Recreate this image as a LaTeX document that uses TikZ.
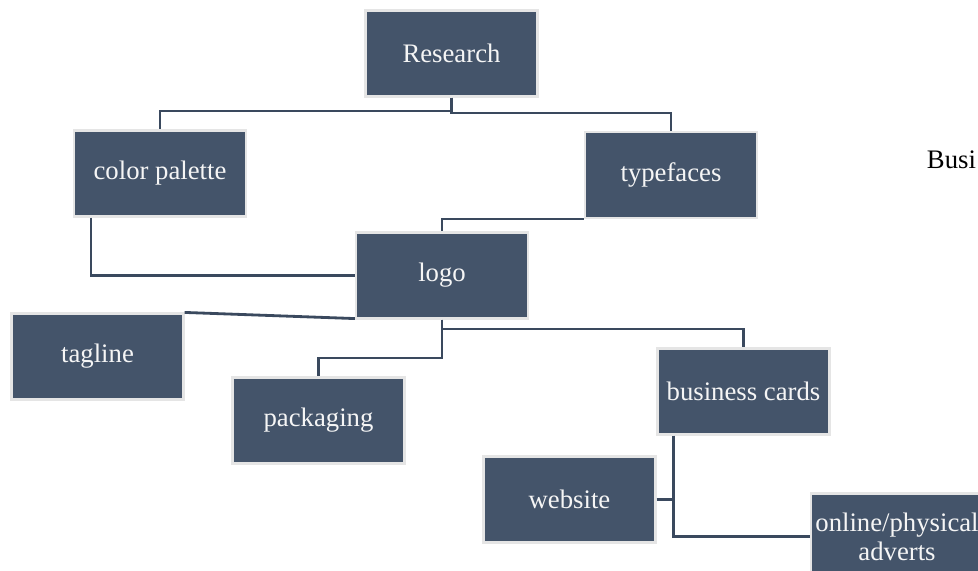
\documentclass[tikz,border=0pt]{standalone}
\usepackage{fontspec}
\setmainfont{Liberation Serif}
\usetikzlibrary{calc}
\definecolor{boxfill}{RGB}{68,84,106}
\definecolor{boxedge}{RGB}{229,229,229}
\definecolor{linkcol}{RGB}{58,73,94}
\newcommand{\boxfont}{\fontsize{19}{20.5}\selectfont}
\tikzset{
  tbox/.style={draw=boxedge, fill=boxfill, line width=1.5pt, text=white!96!black,
               minimum width=4.3cm, minimum height=2.15cm, inner sep=1pt,
               align=center, font=\boxfont},
  link/.style={linkcol, line width=2pt},
}

\begin{document}
\begin{tikzpicture}[x=0.025cm, y=-0.025cm]
  \clip (0,0) rectangle (978,571);
  % boxes
  \node[tbox] (research) at (451.5,53.5) {Research};
  \node[tbox] (cpal)     at (160,173.5)  {color palette};
  \node[tbox] (tface)    at (671,175)    {typefaces};
  \node[tbox] (logo)     at (442,275.5)  {logo};
  \node[tbox] (tagline)  at (97.5,356.5) {tagline};
  \node[tbox] (packg)    at (318.5,420.5) {packaging};
  \node[tbox] (bcards)   at (743.5,391.5) {business cards};
  \node[tbox] (website)  at (569.5,499.5) {website};
  \node[tbox] (adverts)  at (897,536.5)  {online/physical\\adverts};
  \node[anchor=base west, font=\boxfont] (busi) at (922,169) {Busi};

  % connectors
  \draw[link] (research.south) -- (451.5,111) -| (cpal.north);
  \draw[link] (research.south) -- (451.5,113) -| (tface.north);
  \draw[link] ($(cpal.south west)+(18,0)$) |- (logo.west);
  \draw[link] (tface.south west) -| (logo.north);
  \draw[link] (tagline.north east) -- ($(logo.south west)+(0,-1)$);
  \draw[link] (logo.south) -- (442,358) -| (packg.north);
  \draw[link] (logo.south) -- (442,329) -| (bcards.north);
  \draw[link] ($(bcards.south west)+(17,0)$) |- (adverts.west);
  \draw[link] (website.east) -- ++(17,0);
\end{tikzpicture}
\end{document}
